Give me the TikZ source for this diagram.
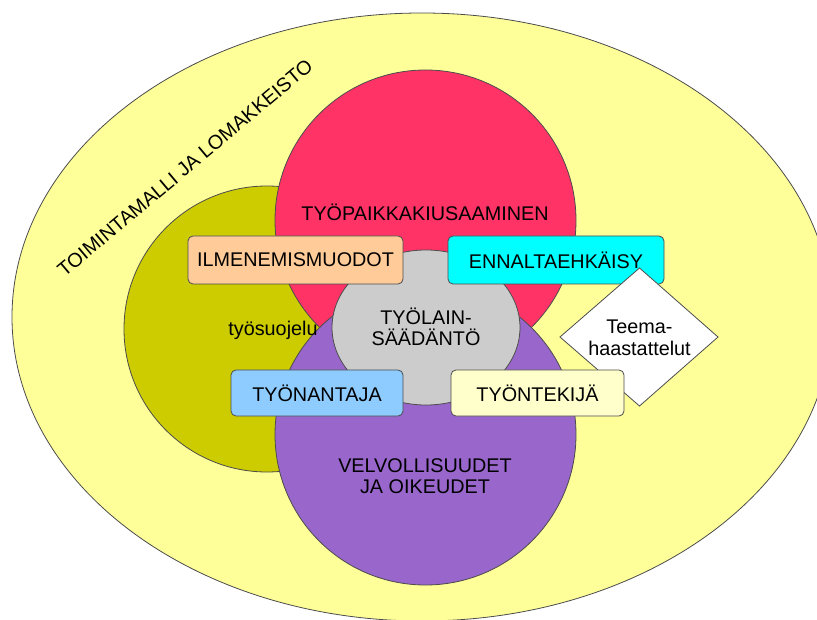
\documentclass[tikz,border=0pt]{standalone}
\usepackage{fontspec}
\setmainfont{Liberation Sans}

\definecolor{paleyellow}{HTML}{FFFF99}
\definecolor{oliveball}{HTML}{CCCC00}
\definecolor{redball}{HTML}{FF3366}
\definecolor{purpleball}{HTML}{9966CC}
\definecolor{greyball}{HTML}{CCCCCC}
\definecolor{peach}{HTML}{FFCC99}
\definecolor{cyanbox}{HTML}{00FFFF}
\definecolor{bluebox}{HTML}{8ECCFF}
\definecolor{creambox}{HTML}{FFFFCC}

\begin{document}
\begin{tikzpicture}[x=1pt, y=-1pt,
  edge/.style={draw=black!70, line width=0.8pt},
  box/.style={edge, rounded corners=5pt, inner sep=0pt, font=\fontsize{19.8}{22}\selectfont},
  lbl/.style={font=\fontsize{19.8}{21.5}\selectfont, align=center, inner sep=0pt}]
\useasboundingbox (0,0) rectangle (817,620);
\clip (0,0) rectangle (817,620);

% Outer ellipse and the four balls
\draw[edge, fill=paleyellow] (422,317) ellipse [x radius=410pt, y radius=304pt];
\draw[edge, fill=oliveball] (267,329) circle [radius=143pt];
\draw[edge, fill=redball] (425.5,220.5) circle [radius=150.5pt];
\draw[edge, fill=purpleball] (425.5,434.5) circle [radius=150.5pt];
\draw[edge, fill=greyball] (426,327.5) ellipse [x radius=94pt, y radius=77.5pt];

% Texts on the balls
\node[lbl, rotate=40] (toimintamalli) at (185,168) {TOIMINTAMALLI JA LOMAKKEISTO};
\node[lbl] (kiusaaminen) at (425,212) {TYÖPAIKKAKIUSAAMINEN};
\node[lbl] (tyosuojelu) at (273,330) {työsuojelu};
\node[lbl] (lainsaadanto) at (426,327) {TYÖLAIN-\\SÄÄDÄNTÖ};
\node[lbl] (velvollisuudet) at (425,476) {VELVOLLISUUDET\\JA OIKEUDET};

% Boxes
\node[box, fill=peach, minimum width=215pt, minimum height=48pt] (ilmenemis) at (295.5,260) {ILMENEMISMUODOT};
\node[box, fill=cyanbox, minimum width=216pt, minimum height=48pt] (ennalta) at (556,260) {ENNALTAEHKÄISY};
\node[box, fill=bluebox, minimum width=172pt, minimum height=46pt] (tyonantaja) at (317,393) {TYÖNANTAJA};

% Diamond
\draw[edge, fill=white] (560,337) -- (639.5,268) -- (718,337) -- (639.5,406) -- cycle;
\node[lbl] (teema) at (639.5,338) {Teema-\\haastattelut};

\node[box, fill=creambox, minimum width=173pt, minimum height=46pt] (tyontekija) at (537.5,393) {TYÖNTEKIJÄ};
\end{tikzpicture}
\end{document}
